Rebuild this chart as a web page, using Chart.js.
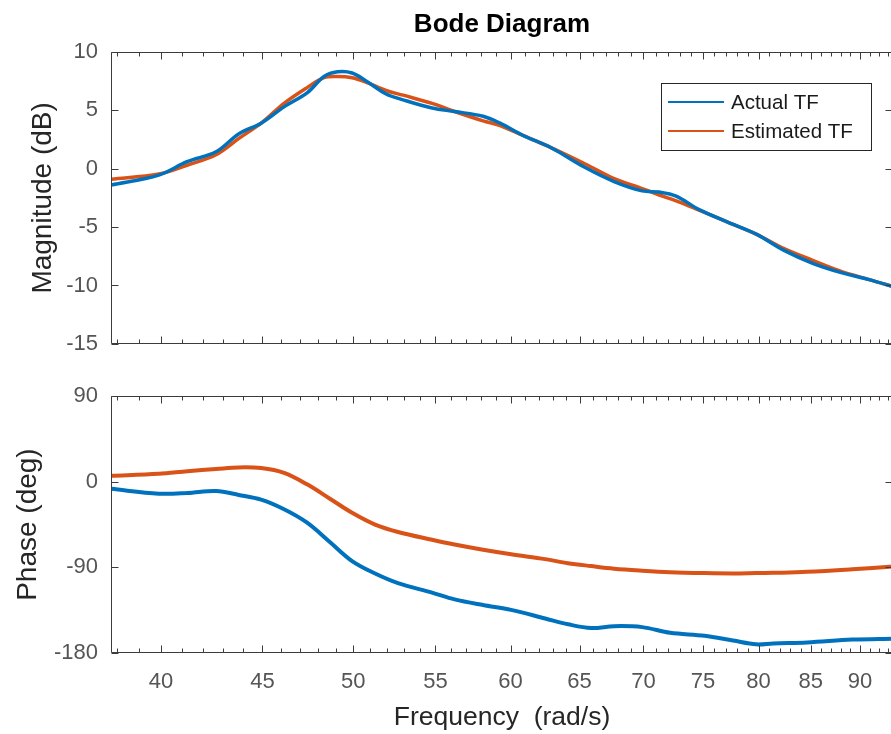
<!DOCTYPE html>
<html>
<head>
<meta charset="utf-8">
<title>Bode Diagram</title>
<script src="https://cdn.jsdelivr.net/npm/chart.js@4.4.1/dist/chart.umd.min.js"></script>
<style>
  html, body { margin: 0; padding: 0; background: #fff; overflow: hidden; }
  #wrap { position: relative; width: 891px; height: 734px; overflow: hidden; }
  canvas { position: absolute; left: 0; }
  #magChart { top: 0; }
  #phaseChart { top: 370px; }
</style>
</head>
<body>
<div id="wrap">
  <canvas id="magChart" width="900" height="370"></canvas>
  <canvas id="phaseChart" width="900" height="364"></canvas>
</div>
<script>
// ---- data (frequency in rad/s) ----
const freqMag = [37.75, 39.9, 41.23, 42.64, 43.79, 44.93, 46.14, 47.39, 48.33, 49.1, 49.93, 50.77,
                 51.94, 52.97, 54.78, 56.23, 58.12, 59.28, 60.88, 62.89, 65.43, 67.66, 69.9, 71.29,
                 72.71, 74.67, 77.13, 79.78, 82.4, 85.18, 88.05, 90.95, 93.5];
const magActual = [-1.4, -0.55, 0.6, 1.45, 3.0, 3.9, 5.3, 6.5, 7.9, 8.3, 8.2, 7.5,
                   6.4, 5.9, 5.2, 4.9, 4.5, 3.9, 2.85, 1.8, 0.1, -1.1, -1.9, -2.0,
                   -2.35, -3.5, -4.55, -5.6, -7.0, -8.1, -8.9, -9.5, -10.1];
const magEstimated = [-0.9, -0.45, 0.3, 1.2, 2.6, 3.9, 5.6, 6.95, 7.8, 7.9, 7.8, 7.4,
                      6.7, 6.3, 5.6, 4.9, 4.1, 3.7, 2.85, 1.8, 0.4, -0.85, -1.7, -2.25,
                      -2.75, -3.55, -4.55, -5.6, -6.85, -7.85, -8.8, -9.5, -10.1];

const freqPhase = [37.75, 39.9, 41.25, 42.64, 43.78, 44.93, 46.14, 47.39, 48.64, 49.93, 51.28, 52.66,
                   54.78, 56.23, 58.12, 60.04, 62.46, 64.14, 65.88, 67.66, 69.9, 72.2, 75.15, 77.67,
                   79.78, 81.37, 84.64, 89.18, 93.5];
const phaseActual = [-7.4, -12.5, -11.8, -9.7, -13.8, -18.8, -28.9, -43, -63, -83.3, -96.4, -106.5,
                     -116.5, -123.6, -129.6, -134.7, -143.7, -149.8, -153.8, -151.8, -152.8, -158.8, -161.9, -166.9,
                     -170.9, -169.9, -168.9, -165.9, -164.9];
const phaseEstimated = [6.4, 8.4, 11.1, 13.4, 15.1, 14.4, 9.4, -2.7, -17.5, -32.6, -45, -52.8,
                        -61, -66, -71.5, -76.2, -81.3, -85.6, -88.6, -91.3, -93.4, -95, -96, -96.4,
                        -96, -95.7, -94.7, -92, -89];

const seriesNames = ['Actual TF', 'Estimated TF'];
const xTicks = [40, 45, 50, 55, 60, 65, 70, 75, 80, 85, 90];
const freqRange = [37.75, 93.5];
const magRange = [-15, 10, 5];
const phaseRange = [-180, 90, 90];

// ---- look ----
const FONT = "'Liberation Sans', Arial, Helvetica, sans-serif";
const BLUE = '#0072BD';
const ORANGE = '#D95319';
const AXIS = '#3c3c3c';
const TICKTXT = '#555555';

const pts = (xs, ys) => xs.map((x, i) => ({ x: x, y: ys[i] }));

// axis box + inward ticks (major and minor), drawn over the curves
const bodeFrame = {
  id: 'bodeFrame',
  afterDatasetsDraw(chart) {
    const { ctx, chartArea: a, scales: { x, y } } = chart;
    const L = Math.round(a.left) + 0.5, R = Math.round(a.right) - 0.5;
    const T = Math.round(a.top) + 0.5, B = Math.round(a.bottom) - 0.5;
    ctx.save();
    ctx.strokeStyle = AXIS;
    ctx.lineWidth = 1;
    ctx.beginPath();
    ctx.rect(L, T, R - L, B - T);
    for (let v = Math.ceil(freqRange[0]); v <= freqRange[1]; v++) {
      const px = Math.round(x.getPixelForValue(v)) + 0.5;
      const len = xTicks.includes(v) ? 7 : 4;
      ctx.moveTo(px, B); ctx.lineTo(px, B - len);
      ctx.moveTo(px, T); ctx.lineTo(px, T + len);
    }
    y.ticks.forEach(t => {
      const py = Math.round(y.getPixelForValue(t.value)) + 0.5;
      ctx.moveTo(L, py); ctx.lineTo(L + 7, py);
      ctx.moveTo(R, py); ctx.lineTo(R - 7, py);
    });
    ctx.stroke();
    ctx.restore();
  }
};

// title, axis labels, legend box
const bodeText = {
  id: 'bodeText',
  afterDraw(chart, args, o) {
    const { ctx, chartArea: a } = chart;
    ctx.save();
    ctx.textAlign = 'center';
    ctx.textBaseline = 'middle';
    if (o.title) {
      ctx.fillStyle = '#000';
      ctx.font = `bold 26px ${FONT}`;
      ctx.fillText(o.title, (a.left + a.right) / 2, o.titleY);
    }
    if (o.yTitle) {
      ctx.fillStyle = '#262626';
      ctx.font = `28px ${FONT}`;
      ctx.save();
      ctx.translate(o.yTitleX, (a.top + a.bottom) / 2);
      ctx.rotate(-Math.PI / 2);
      ctx.fillText(o.yTitle, 0, 0);
      ctx.restore();
    }
    if (o.xTitle) {
      ctx.fillStyle = '#262626';
      ctx.font = `26.5px ${FONT}`;
      ctx.fillText(o.xTitle, (a.left + a.right) / 2, o.xTitleY);
    }
    if (o.legend) {
      const g = o.legend;
      ctx.fillStyle = '#fff';
      ctx.fillRect(g.x, g.y, g.w, g.h);
      ctx.strokeStyle = '#262626';
      ctx.lineWidth = 1;
      ctx.strokeRect(g.x + 0.5, g.y + 0.5, g.w, g.h);
      ctx.font = `20.5px ${FONT}`;
      ctx.textAlign = 'left';
      chart.data.datasets.forEach((ds, i) => {
        const yy = g.y + g.row0 + i * g.rowGap;
        ctx.strokeStyle = ds.borderColor;
        ctx.lineWidth = 2;
        ctx.beginPath();
        ctx.moveTo(g.x + 7, yy); ctx.lineTo(g.x + 63, yy);
        ctx.stroke();
        ctx.fillStyle = '#1a1a1a';
        ctx.fillText(ds.label, g.x + 70, yy + 1);
      });
    }
    ctx.restore();
  }
};

function makeChart(id, cfg) {
  return new Chart(document.getElementById(id), {
    type: 'line',
    data: {
      datasets: [
        { label: seriesNames[0], data: cfg.actual, borderColor: BLUE, borderWidth: cfg.lw,
          pointRadius: 0, tension: 0.35, fill: false },
        { label: seriesNames[1], data: cfg.estimated, borderColor: ORANGE, borderWidth: cfg.lw,
          pointRadius: 0, tension: 0.35, fill: false },
      ]
    },
    options: {
      responsive: false,
      animation: false,
      events: [],
      layout: { padding: cfg.padding },
      plugins: {
        legend: { display: false },
        tooltip: { enabled: false },
        bodeText: cfg.text,
      },
      scales: {
        x: {
          type: 'logarithmic',
          min: freqRange[0],
          max: freqRange[1],
          display: cfg.showX,
          afterBuildTicks: s => { s.ticks = xTicks.map(v => ({ value: v })); },
          afterFit: s => { s.height = cfg.xHeight; },
          grid: { display: false, drawTicks: false },
          border: { display: false },
          ticks: {
            padding: 16,
            maxRotation: 0,
            autoSkip: false,
            color: TICKTXT,
            font: { family: FONT, size: 22 },
            callback: v => String(v),
          }
        },
        y: {
          min: cfg.range[0],
          max: cfg.range[1],
          afterFit: s => { s.width = 111; },
          grid: { display: false, drawTicks: false },
          border: { display: false },
          ticks: {
            stepSize: cfg.range[2],
            padding: 13,
            color: TICKTXT,
            font: { family: FONT, size: 22 },
          }
        }
      }
    },
    plugins: [bodeFrame, bodeText]
  });
}

makeChart('magChart', {
  actual: pts(freqMag, magActual),
  estimated: pts(freqMag, magEstimated),
  range: magRange,
  lw: 3.5,
  showX: false,
  xHeight: 0,
  padding: { top: 52, bottom: 12, left: 0, right: 7 },
  text: {
    title: 'Bode Diagram', titleY: 25,
    yTitle: 'Magnitude (dB)', yTitleX: 43,
    legend: { x: 661, y: 83, w: 210, h: 67, row0: 19, rowGap: 29 },
  }
});

makeChart('phaseChart', {
  actual: pts(freqPhase, phaseActual),
  estimated: pts(freqPhase, phaseEstimated),
  range: phaseRange,
  lw: 4,
  showX: true,
  xHeight: 81,
  padding: { top: 14, bottom: 0, left: 0, right: 7 },
  text: {
    yTitle: 'Phase (deg)', yTitleX: 28,
    xTitle: 'Frequency  (rad/s)', xTitleY: 348,
  }
});
</script>
</body>
</html>
